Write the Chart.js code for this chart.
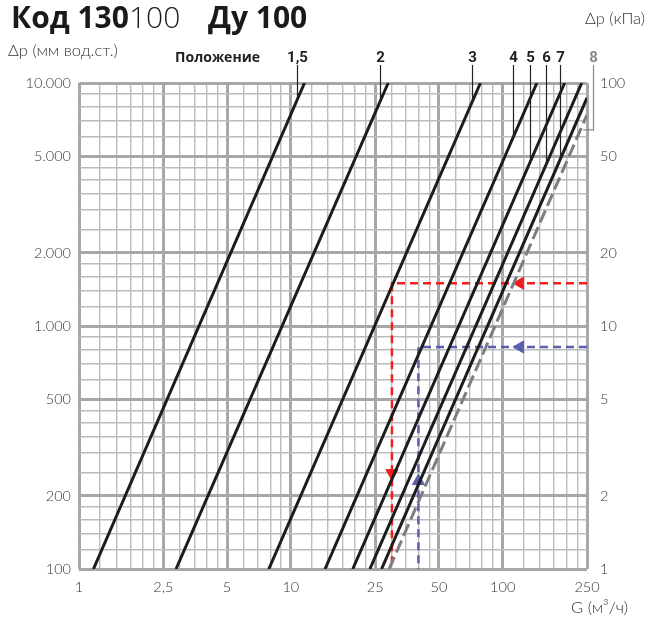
<!DOCTYPE html>
<html><head><meta charset="utf-8">
<script src="https://cdn.jsdelivr.net/npm/chart.js@4/dist/chart.umd.min.js"></script>
<style>html,body{margin:0;padding:0;background:#fff}#wrap{position:relative;width:648px;height:617px}canvas{display:block}</style>
</head><body><div id="wrap"><canvas id="c" width="648" height="617"></canvas></div>
<script>
// ---- data ----
const positions   = ['1,5','2','3','4','5','6','7','8'];
const flowAtLow   = [1.17, 2.87, 7.87, 14.5, 19.6, 23.6, 26.8, 29.1];   // G (m3/h) where each line meets Δp = 100
const dpLow       = [100, 100, 100, 100, 100, 100, 100, 100];
const flowAtHigh  = [11.6, 28.8, 78.5, 145, 196, 236, 250, 250];       // G at upper end of each line
const dpAtHigh    = [10000, 10000, 10000, 10000, 10000, 10000, 8680, 7390];

const labelFlow   = [10.7, 26.4, 71.7, 112, 134.7, 160.3, 186.6, 267]; // G where the position labels sit
const leaderEndDp = [8500, 8400, 8340, 5970, 4720, 4610, 4850, 6410];
const leader8EndFlow = 240;

const redFlow  = [250, 30, 30];
const redDp    = [1500, 1500, 100];
const blueFlow = [250, 40, 40];
const blueDp   = [820, 820, 100];
const redArrowFlow  = [120.8, 30];
const redArrowDp    = [1500, 248];
const redArrowRot   = [270, 180];
const blueArrowFlow = [120.8, 40];
const blueArrowDp   = [820, 230];
const blueArrowRot  = [270, 0];

const xMajorTicks = [1, 2.5, 5, 10, 25, 50, 100, 250];
const xTickLabels = ['1', '2,5', '5', '10', '25', '50', '100', '250'];
const xMinorTicks = [1.25,1.5,1.75,2,2.25,3,3.5,4,4.5,6,7,8,9,12.5,15,17.5,20,22.5,30,35,40,45,60,70,80,90,125,150,175,200,225];
const yMajorTicks = [100, 200, 500, 1000, 2000, 5000, 10000];
const yTickLabels = ['100', '200', '500', '1.000', '2.000', '5.000', '10.000'];
const yMinorTicks = [120,140,160,180,250,300,350,400,450,600,700,800,900,1200,1400,1600,1800,2500,3000,3500,4000,4500,6000,7000,8000,9000];
const kpaTicks    = [1, 2, 5, 10, 20, 50, 100];
const kpaLabels   = ['1', '2', '5', '10', '20', '50', '100'];

// ---- build datasets ----
const datasets = positions.map((p, i) => ({
  label: p,
  data: [{x: flowAtLow[i], y: dpLow[i]}, {x: flowAtHigh[i], y: dpAtHigh[i]}],
  showLine: true, pointRadius: 0, borderWidth: 3,
  borderColor: i === 7 ? '#7d7d7d' : '#1c1c1c',
  borderDash: i === 7 ? [13, 5] : [],
  borderCapStyle: 'butt'
}));
datasets.push({
  label: 'red', data: redFlow.map((f, i) => ({x: f, y: redDp[i]})),
  showLine: true, pointRadius: 0, borderWidth: 2.5, borderColor: '#f21d1d', borderDash: [8, 5], borderCapStyle: 'butt'
});
datasets.push({
  label: 'blue', data: blueFlow.map((f, i) => ({x: f, y: blueDp[i]})),
  showLine: true, pointRadius: 0, borderWidth: 2.5, borderColor: '#5b5fae', borderDash: [8, 5], borderCapStyle: 'butt'
});
datasets.push({
  label: 'redArrows', data: redArrowFlow.map((f, i) => ({x: f, y: redArrowDp[i]})),
  showLine: false, pointStyle: 'triangle', pointRadius: 7, rotation: redArrowRot,
  backgroundColor: '#f21d1d', borderColor: '#f21d1d', borderWidth: 1
});
datasets.push({
  label: 'blueArrows', data: blueArrowFlow.map((f, i) => ({x: f, y: blueArrowDp[i]})),
  showLine: false, pointStyle: 'triangle', pointRadius: 7, rotation: blueArrowRot,
  backgroundColor: '#5b5fae', borderColor: '#5b5fae', borderWidth: 1
});

const TICK_FONT = {family: "'Lato', 'DejaVu Sans', sans-serif", size: 14.5, weight: 300};
const isMaj = (arr, v) => arr.some(m => Math.abs(m - v) < 1e-9);

const annot = {
  id: 'annot',
  afterDatasetsDraw(chart) {
    const {ctx, scales: {x, y}} = chart;
    ctx.save();
    ctx.textBaseline = 'alphabetic';
    positions.forEach((p, i) => {
      const px = Math.round(x.getPixelForValue(labelFlow[i])) + 0.5;
      const grey = i === 7;
      const col = grey ? '#8a8a8a' : '#222';
      ctx.strokeStyle = col; ctx.lineWidth = 1.2;
      const py = y.getPixelForValue(leaderEndDp[i]);
      ctx.beginPath();
      ctx.moveTo(px, 65);
      ctx.lineTo(px, py);
      if (grey) ctx.lineTo(x.getPixelForValue(leader8EndFlow), py);
      ctx.stroke();
      ctx.fillStyle = col;
      ctx.font = "bold 15px 'Liberation Sans Narrow', 'Roboto', sans-serif";
      ctx.textAlign = 'center';
      ctx.fillText(p, px, 62);
    });
    ctx.fillStyle = '#222';
    ctx.font = "bold 14px 'Open Sans', sans-serif";
    ctx.textAlign = 'right';
    ctx.fillText('Положение', 260, 62);

    // title
    ctx.textAlign = 'left';
    ctx.fillStyle = '#1a1a1a';
    ctx.font = "bold 30px 'Open Sans', sans-serif";
    ctx.fillText('Код 130', 11, 28);
    const w = ctx.measureText('Код 130').width;
    ctx.font = "300 30px 'Open Sans', sans-serif";
    ctx.fillText('100', 11 + w, 28);
    ctx.font = "bold 30px 'Open Sans', sans-serif";
    ctx.fillText('Ду 100', 208, 28);

    ctx.fillStyle = '#333';
    ctx.font = "300 16.5px 'Lato', 'DejaVu Sans', sans-serif";
    ctx.textAlign = 'left';
    ctx.fillText('Δp (мм вод.ст.)', 8, 56);
    ctx.textAlign = 'right';
    ctx.fillText('Δp (кПа)', 645, 24);
    ctx.fillText('G (м³/ч)', 628, 613);
    ctx.restore();
  }
};

new Chart(document.getElementById('c'), {
  type: 'scatter',
  data: {datasets},
  options: {
    responsive: false, animation: false,
    layout: {padding: {top: 83, left: 0, right: 0, bottom: 0}},
    plugins: {legend: {display: false}, tooltip: {enabled: false}},
    scales: {
      x: {
        type: 'logarithmic', min: 1, max: 250, position: 'bottom',
        afterBuildTicks: s => { s.ticks = xMajorTicks.concat(xMinorTicks).sort((a, b) => a - b).map(v => ({value: v})); },
        afterFit: s => { s.height = 48; },
        border: {display: false},
        grid: {
          drawTicks: false,
          color: c => (c.tick && isMaj(xMajorTicks, c.tick.value)) ? '#a7a7aa' : '#bcbcbe',
          lineWidth: c => (c.tick && isMaj(xMajorTicks, c.tick.value)) ? 3 : 1.4
        },
        ticks: {
          autoSkip: false, maxRotation: 0, padding: 10, color: '#333', font: TICK_FONT,
          callback: v => { const k = xMajorTicks.findIndex(m => Math.abs(m - v) < 1e-9); return k >= 0 ? xTickLabels[k] : ''; }
        }
      },
      y: {
        type: 'logarithmic', min: 100, max: 10000, position: 'left',
        afterBuildTicks: s => { s.ticks = yMajorTicks.concat(yMinorTicks).sort((a, b) => a - b).map(v => ({value: v})); },
        afterFit: s => { s.width = 79; },
        border: {display: false},
        grid: {
          drawTicks: false,
          color: c => (c.tick && isMaj(yMajorTicks, c.tick.value)) ? '#a7a7aa' : '#bcbcbe',
          lineWidth: c => (c.tick && isMaj(yMajorTicks, c.tick.value)) ? 3 : 1.4
        },
        ticks: {
          autoSkip: false, padding: 8, color: '#333', font: TICK_FONT,
          callback: v => { const k = yMajorTicks.findIndex(m => Math.abs(m - v) < 1e-9); return k >= 0 ? yTickLabels[k] : ''; }
        }
      },
      y2: {
        type: 'logarithmic', min: 1, max: 100, position: 'right',
        afterBuildTicks: s => { s.ticks = kpaTicks.map(v => ({value: v})); },
        afterFit: s => { s.width = 61; },
        border: {display: false},
        grid: {display: false, drawTicks: false},
        ticks: {
          autoSkip: false, padding: 13, color: '#333', font: TICK_FONT,
          callback: v => { const k = kpaTicks.findIndex(m => Math.abs(m - v) < 1e-9); return k >= 0 ? kpaLabels[k] : ''; }
        }
      }
    }
  },
  plugins: [annot]
});
</script></body></html>
